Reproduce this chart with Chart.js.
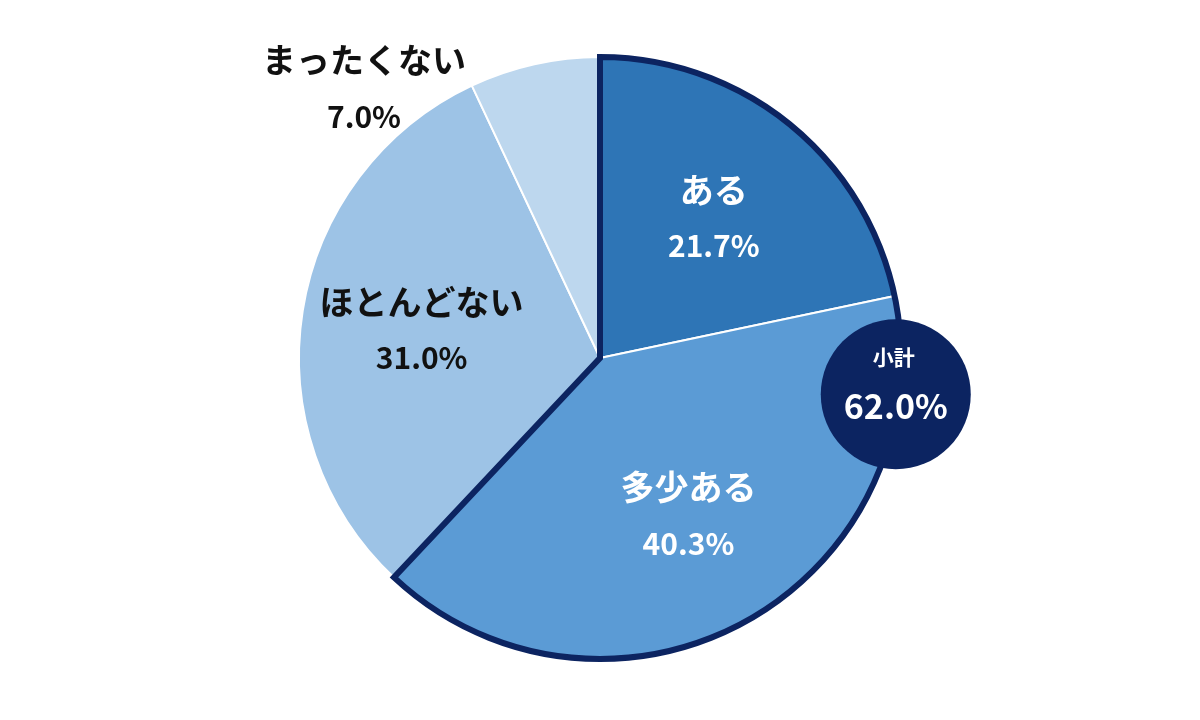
<!DOCTYPE html>
<html><head><meta charset="utf-8">
<script src="https://cdn.jsdelivr.net/npm/chart.js@4"></script>
<style>html,body{margin:0;background:#fff}#wrap{width:1200px;height:720px}</style>
</head><body><div id="wrap"><canvas id="c"></canvas></div>
<script>
var labels = ['ある', '多少ある', 'ほとんどない', 'まったくない'];
var values = [21.7, 40.3, 31.0, 7.0];
var colors = ['#2e75b6', '#5b9bd5', '#9dc3e6', '#bdd7ee'];
var textColors = ['#fff', '#fff', '#111', '#111'];
var subtotalLabel = '小計';
var subtotalValue = 62.0;
var navy = '#0c2461';
var FONT = '"Noto Sans CJK JP", "Noto Sans", sans-serif';

var overlay = {
  id: 'overlay',
  afterDatasetsDraw: function (chart) {
    var ctx = chart.ctx, arcs = chart.getDatasetMeta(0).data;
    var a0 = arcs[0], a1 = arcs[1];
    var cx = a0.x, cy = a0.y, r = a0.outerRadius;
    // outline around the "ある" + "多少ある" group
    ctx.save();
    ctx.strokeStyle = navy; ctx.lineWidth = 6; ctx.lineJoin = 'miter';
    ctx.beginPath();
    ctx.moveTo(cx, cy);
    ctx.arc(cx, cy, r, a0.startAngle, a1.endAngle);
    ctx.closePath();
    ctx.stroke();

    // labels
    ctx.textAlign = 'center'; ctx.textBaseline = 'middle';
    arcs.forEach(function (a, i) {
      var mid = (a.startAngle + a.endAngle) / 2, f = 0.6;
      if (i === 3) { mid = -Math.PI * 0.729; f = 1.19; }
      var x = cx + Math.cos(mid) * r * f, y = cy + Math.sin(mid) * r * f;
      ctx.fillStyle = textColors[i];
      ctx.font = 'bold 34px ' + FONT;
      ctx.fillText(labels[i], x, y - 28);
      ctx.font = 'bold 30px ' + FONT;
      ctx.fillText(values[i].toFixed(1) + '%', x, y + 28);
    });

    // subtotal badge
    var ang = a0.startAngle + (97 / 360) * Math.PI * 2;
    var bx = cx + Math.cos(ang) * r * 0.99, by = cy + Math.sin(ang) * r * 0.99;
    ctx.fillStyle = navy;
    ctx.beginPath(); ctx.arc(bx, by, 75, 0, Math.PI * 2); ctx.fill();
    ctx.fillStyle = '#fff';
    ctx.font = 'bold 21px ' + FONT;
    ctx.fillText(subtotalLabel, bx - 2, by - 37);
    ctx.font = 'bold 34px ' + FONT;
    ctx.fillText(subtotalValue.toFixed(1) + '%', bx, by + 12);
    ctx.restore();
  }
};

new Chart(document.getElementById('c'), {
  type: 'pie',
  data: {
    labels: labels,
    datasets: [{ data: values, backgroundColor: colors, borderColor: '#fff', borderWidth: 2 }]
  },
  options: {
    responsive: true, maintainAspectRatio: false, animation: false,
    layout: { padding: { top: 56, bottom: 60 } },
    plugins: { legend: { display: false }, tooltip: { enabled: false } }
  },
  plugins: [overlay]
});
</script></body></html>
